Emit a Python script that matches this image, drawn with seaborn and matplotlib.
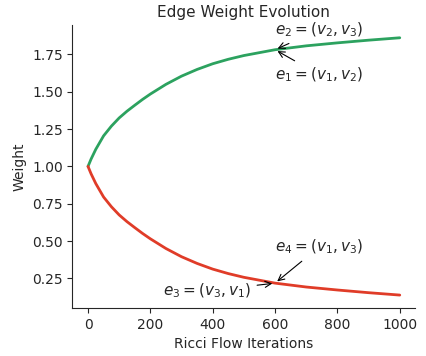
import matplotlib
matplotlib.use("Agg")
import matplotlib.pyplot as plt
import seaborn as sns
import pandas as pd

iterations = [0, 10, 25, 50, 75, 100, 125, 150, 175, 200, 250, 300, 350, 400, 450, 500, 600, 700, 800, 900, 1000]
w_green = [1.0, 1.05, 1.115, 1.205, 1.27, 1.325, 1.37, 1.41, 1.449, 1.485, 1.55, 1.605, 1.65, 1.688, 1.718, 1.743, 1.782, 1.808, 1.828, 1.846, 1.862]
w_red = [1.0, 0.95, 0.885, 0.795, 0.73, 0.675, 0.63, 0.59, 0.551, 0.515, 0.45, 0.395, 0.35, 0.312, 0.282, 0.257, 0.218, 0.192, 0.172, 0.154, 0.138]

title = "Edge Weight Evolution"
xlabel = "Ricci Flow Iterations"
ylabel = "Weight"
green = "#2ca25f"
red = "#e03c28"

sns.set_style("ticks")
plt.rcParams['font.family'] = ['DejaVu Sans']

df = pd.DataFrame({"it": iterations, "g": w_green, "r": w_red})

fig, ax = plt.subplots(figsize=(4.26, 3.56), dpi=100)
sns.lineplot(data=df, x="it", y="g", color=green, lw=2, ax=ax)
sns.lineplot(data=df, x="it", y="r", color=red, lw=2, ax=ax)

ax.set_title(title, fontsize=11)
ax.set_xlabel(xlabel)
ax.set_ylabel(ylabel)
ax.set_xticks([0, 200, 400, 600, 800, 1000])
ax.set_yticks([0.25, 0.5, 0.75, 1.0, 1.25, 1.5, 1.75])

gi = iterations.index(600)
ap = dict(arrowstyle="->", color="black", lw=0.8)
ax.annotate(r"$e_2 = (v_2, v_3)$", xy=(600, w_green[gi]), xytext=(600, 1.885), arrowprops=ap, fontsize=11)
ax.annotate(r"$e_1 = (v_1, v_2)$", xy=(600, w_green[gi]), xytext=(600, 1.585), arrowprops=ap, fontsize=11)
ax.annotate(r"$e_4 = (v_1, v_3)$", xy=(600, w_red[gi]), xytext=(600, 0.43), arrowprops=ap, fontsize=11)
ax.annotate(r"$e_3 = (v_3, v_1)$", xy=(600, w_red[gi]), xytext=(240, 0.135), arrowprops=ap, fontsize=11)

sns.despine(ax=ax)
fig.subplots_adjust(left=0.17, right=0.975, bottom=0.135, top=0.93)
fig.savefig("out.png", dpi=100)
